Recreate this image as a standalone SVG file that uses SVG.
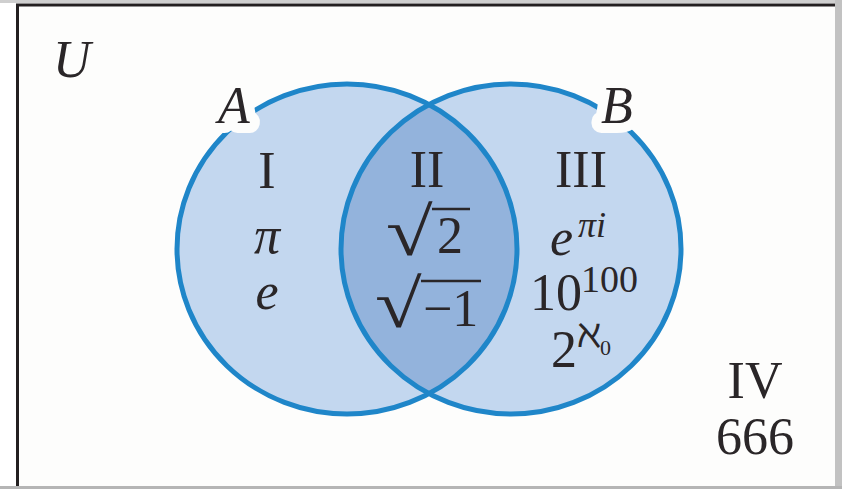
<svg xmlns="http://www.w3.org/2000/svg" width="842" height="489" viewBox="0 0 842 489">
  <style>
    .t { font-family: "Liberation Serif", "Times New Roman", "DejaVu Serif", serif; fill: #2a2628; }
    .i { font-style: italic; }
    .big { font-size: 52px; }
    .rad { font-size: 68px; }
    .halo { stroke: #fdfdfc; stroke-width: 20px; paint-order: stroke; stroke-linejoin: round; }
    .ring { fill: none; stroke: #1f86c9; stroke-width: 5; }
    .bar { stroke: #2a2628; stroke-width: 2.5; }
  </style>
  <defs>
    <clipPath id="clipA">
      <ellipse cx="347" cy="249" rx="170" ry="165"/>
    </clipPath>
  </defs>
  <rect x="0" y="0" width="842" height="489" fill="#ffffff"/>
  <rect x="0" y="0" width="842" height="3" fill="#cfcfcf"/>
  <rect x="835" y="0" width="7" height="489" fill="#c2c2c2"/>
  <rect x="0" y="486" width="842" height="3" fill="#b5b5b5"/>
  <rect x="19" y="7" width="816" height="479" fill="#fdfdfc"/>
  <line x1="16" y1="5" x2="835" y2="5" stroke="#231f20" stroke-width="3"/>
  <line x1="17.5" y1="4" x2="17.5" y2="486" stroke="#231f20" stroke-width="3"/>

  <g id="setA">
    <ellipse cx="347" cy="249" rx="170" ry="165" fill="#c3d7ef"/>
  </g>
  <g id="setB">
    <ellipse cx="511" cy="249" rx="170" ry="165" fill="#c3d7ef"/>
  </g>
  <g id="intersection">
    <ellipse cx="511" cy="249" rx="170" ry="165" fill="#93b3dc" clip-path="url(#clipA)"/>
  </g>
  <g id="outlines">
    <ellipse class="ring" cx="347" cy="249" rx="170" ry="165"/>
    <ellipse class="ring" cx="511" cy="249" rx="170" ry="165"/>
  </g>

  <g id="labels">
    <text class="t i big" x="53" y="77">U</text>
    <text class="t i big halo" x="218" y="123">A</text>
    <text class="t i big halo" x="601" y="123">B</text>
  </g>

  <g id="region-I">
    <text class="t big" x="267" y="188" text-anchor="middle">I</text>
    <text class="t i big" x="267" y="253" text-anchor="middle">π</text>
    <text class="t i big" x="267" y="309" text-anchor="middle">e</text>
  </g>

  <g id="region-II">
    <text class="t big" x="427" y="187" text-anchor="middle">II</text>
    <text class="t rad" transform="translate(386,255) scale(1.25,1)">√</text>
    <line class="bar" x1="432" y1="209" x2="470" y2="209"/>
    <text class="t big" x="437" y="253">2</text>
    <text class="t rad" transform="translate(375,327) scale(1.25,1)">√</text>
    <line class="bar" x1="421" y1="281" x2="481" y2="281"/>
    <text class="t big" x="423" y="326">−1</text>
  </g>

  <g id="region-III">
    <text class="t big" x="581" y="187" text-anchor="middle">III</text>
    <text class="t i big" x="550" y="255">e</text>
    <text class="t i" x="578" y="237" font-size="36">πi</text>
    <text class="t big" x="530" y="310">10</text>
    <text class="t" x="581" y="292" font-size="38">100</text>
    <text class="t big" x="551" y="367">2</text>
    <text class="t" x="577" y="347" font-size="40">ℵ</text>
    <text class="t" x="600" y="355" font-size="22">0</text>
  </g>

  <g id="region-IV">
    <text class="t big" x="755" y="398" text-anchor="middle">IV</text>
    <text class="t big" x="755" y="454" text-anchor="middle">666</text>
  </g>
</svg>
